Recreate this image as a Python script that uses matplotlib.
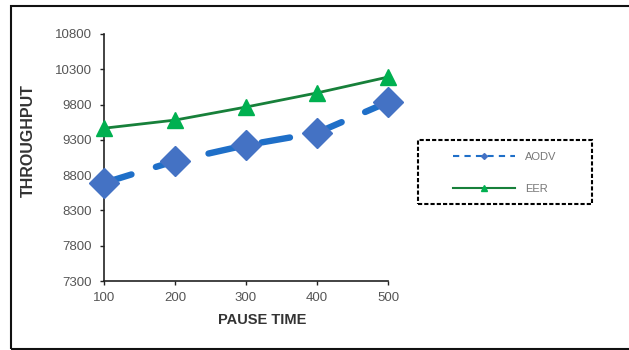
import matplotlib.pyplot as plt
import matplotlib.patches as patches
from matplotlib.lines import Line2D

plt.rcParams['font.family'] = ['Liberation Sans', 'DejaVu Sans']

# data
pause = [100, 200, 300, 400, 500]
aodv = [8690, 9000, 9225, 9400, 9835]
eer = [9465, 9580, 9765, 9965, 10190]
yticks = [7300, 7800, 8300, 8800, 9300, 9800, 10300, 10800]

W, H = 629, 350
fig = plt.figure(figsize=(W / 100, H / 100), dpi=100)
ax = fig.add_axes([104 / W, 1 - 281 / H, (388 - 104) / W, (281 - 34) / H])

blue_line = '#1f6fc8'
blue_mark = '#4472c4'
green_line = '#17803a'
green_mark = '#00b050'

ax.plot(pause, aodv, color=blue_line, lw=4.6, ls=(0, (4.5, 4)), dash_capstyle='round',
        solid_capstyle='round', zorder=3, clip_on=False)
ax.plot(pause, aodv, ls='none', marker='D', ms=15.5, color=blue_mark, zorder=4, clip_on=False)
ax.plot(pause, eer, color=green_line, lw=2, zorder=3, clip_on=False)
ax.plot(pause, eer, ls='none', marker='^', ms=12, color=green_mark, zorder=4, clip_on=False)

ax.set_xlim(100, 500)
ax.set_ylim(7300, 10800)
ax.set_xticks(pause)
ax.set_yticks(yticks)
ax.tick_params(labelsize=9.5, length=3, width=1, colors='#222222', labelcolor='#555555')
ax.tick_params(axis='x', pad=5)
ax.tick_params(axis='y', pad=6)
for s in ['top', 'right']:
    ax.spines[s].set_visible(False)
for s in ['left', 'bottom']:
    ax.spines[s].set_linewidth(1.2)
    ax.spines[s].set_color('#222222')

xl = ax.set_xlabel('PAUSE TIME', fontsize=10.5, fontweight='bold', color='#333333')
yl = ax.set_ylabel('THROUGHPUT', fontsize=11.5, fontweight='bold', color='#333333')
xl.set_va('center')
yl.set_va('center')
ax.xaxis.set_label_coords((262 - 104) / 284, (281 - 320) / 247)
ax.yaxis.set_label_coords((28 - 104) / 284, (281 - 141) / 247)

# legend box
frame = patches.Rectangle((418 / W, 1 - 204 / H), (592 - 418) / W, (204 - 140) / H,
                          transform=fig.transFigure, fill=False, lw=1.5,
                          ls=(0, (2, 1)), edgecolor='black')
fig.patches.append(frame)

handles = [
    Line2D([], [], color=blue_line, lw=1.5, ls=(0, (3, 2.5)), marker='D', ms=3,
           markerfacecolor=blue_mark, markeredgecolor=blue_mark),
    Line2D([], [], color=green_line, lw=1.5, marker='^', ms=4,
           markerfacecolor=green_mark, markeredgecolor=green_mark),
]
leg = fig.legend(handles, ['AODV', 'EER'], loc='center left',
                 bbox_to_anchor=(453 / W, 1 - 173 / H), frameon=False,
                 fontsize=8, labelcolor='#777777', handlelength=5.6,
                 labelspacing=1.95, borderpad=0, handletextpad=0.9, borderaxespad=0)

# outer chart border
border = patches.Rectangle((11 / W, 1 - 349 / H), 1.1, (349 - 6) / H,
                           transform=fig.transFigure, fill=False, lw=1.5,
                           edgecolor='#111111', clip_on=False)
fig.patches.append(border)

fig.savefig('out.png', dpi=100)
